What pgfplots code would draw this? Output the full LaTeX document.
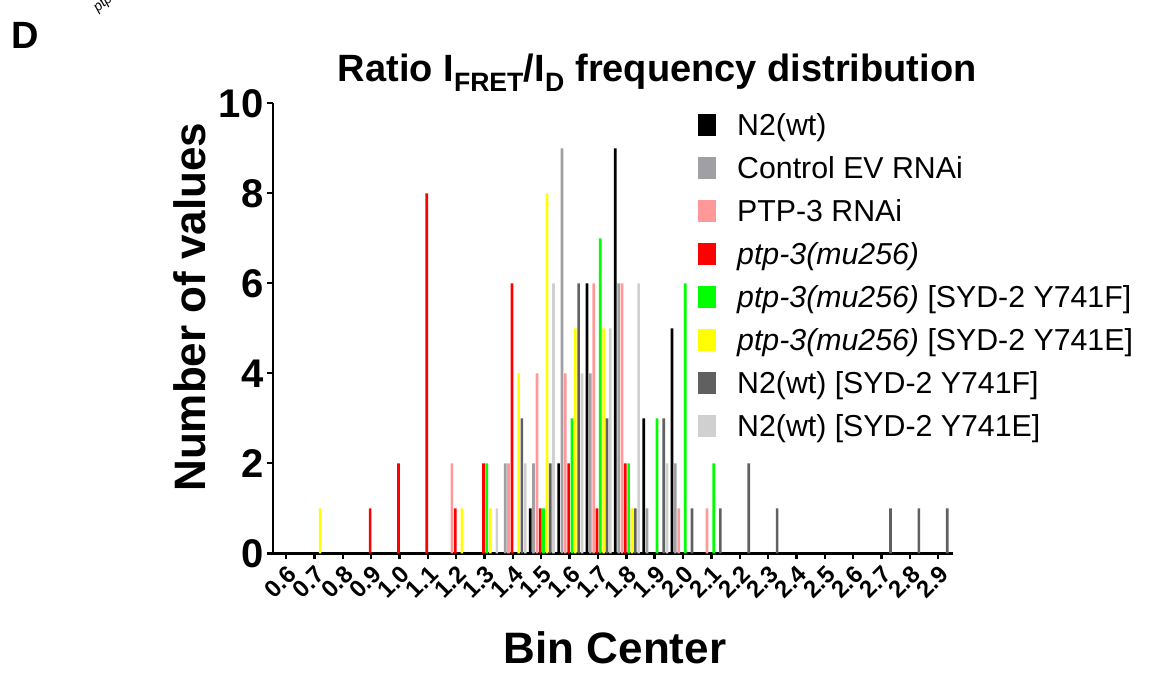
\documentclass[border=0pt]{standalone}
\usepackage{fontspec}
\setmainfont{Liberation Sans}
\usepackage{pgfplots}
\pgfplotsset{compat=1.18}
\definecolor{cN2}{HTML}{000000}
\definecolor{cEV}{HTML}{A0A0A4}
\definecolor{cRNAi}{HTML}{FF9999}
\definecolor{cMu}{HTML}{FF0000}
\definecolor{cYF}{HTML}{00FF00}
\definecolor{cYE}{HTML}{FFFF00}
\definecolor{cWtF}{HTML}{606060}
\definecolor{cWtE}{HTML}{D0D0D0}
\newcommand{\fs}[1]{\fontsize{#1}{#1}\selectfont}

\begin{document}
\begin{tikzpicture}
\useasboundingbox (0pt,0pt) rectangle (1152pt,675pt);
\node[font=\bfseries\fs{38}] at (25pt,640pt) {D};
\node[rotate=40, font=\itshape\fs{14}] at (108pt,675pt) {ptp-3};
\begin{axis}[
    at={(273pt,121.7pt)}, anchor=south west,
    scale only axis, width=680pt, height=450pt,
    xmin=0.554, xmax=2.952, ymin=0, ymax=10,
    axis lines=left,
    axis line style={-, line width=2.4pt},
    xtick={0.6,0.7,0.8,0.9,1.0,1.1,1.2,1.3,1.4,1.5,1.6,1.7,1.8,1.9,2.0,2.1,2.2,2.3,2.4,2.5,2.6,2.7,2.8,2.9},
    ytick={0,2,4,6,8,10},
    tick align=outside, major tick length=6pt,
    tick style={line width=2.4pt, black},
    /pgf/number format/assume math mode=true,
    xticklabel style={rotate=45, anchor=north east, font=\bfseries\fs{24},
        /pgf/number format/.cd, fixed, fixed zerofill, precision=1},
    yticklabel style={font=\bfseries\fs{40}},
    xlabel={Bin Center},
    ylabel={Number of values},
    title={Ratio I\textsubscript{FRET}/I\textsubscript{D} frequency distribution},
    every axis x label/.style={at={(axis description cs:0.503,-0.21)}, anchor=center, font=\bfseries\fs{44}},
    every axis y label/.style={at={(axis description cs:-0.122,0.547)}, anchor=center, rotate=90, font=\bfseries\fs{44}},
    every axis title/.style={at={(axis description cs:0.565,1.068)}, anchor=center, font=\bfseries\fs{38}},
    legend image code/.code={\fill[#1] (0pt,-12pt) rectangle (18pt,10pt);},
    legend style={at={(axis description cs:0.625,0.978)}, anchor=north west,
        draw=none, fill=none, inner sep=0pt, font=\fs{30.3}, row sep=20pt,
        nodes={inner sep=0pt, text height=22pt, text depth=0pt},
        /tikz/every odd column/.append style={column sep=21pt}},
    legend cell align=left,
]
\addplot[ybar, bar width=0.0095, bar shift=-0.0388, fill=cN2, draw=none]
    coordinates {(1.5,1) (1.6,2) (1.7,6) (1.8,9) (1.9,3) (2.0,5)};
\addlegendentry{N2(wt)}
\addplot[ybar, bar width=0.0095, bar shift=-0.0272, fill=cEV, draw=none]
    coordinates {(1.4,2) (1.5,2) (1.6,9) (1.7,4) (1.8,6) (1.9,1) (2.0,2)};
\addlegendentry{Control EV RNAi}
\addplot[ybar, bar width=0.0095, bar shift=-0.0152, fill=cRNAi, draw=none]
    coordinates {(1.2,2) (1.4,2) (1.5,4) (1.6,4) (1.7,6) (1.8,6) (2.0,1) (2.1,1)};
\addlegendentry{PTP-3 RNAi}
\addplot[ybar, bar width=0.0095, bar shift=-0.0035, fill=cMu, draw=none]
    coordinates {(0.9,1) (1.0,2) (1.1,8) (1.2,1) (1.3,2) (1.4,6) (1.5,1) (1.6,2) (1.7,1) (1.8,2)};
\addlegendentry{\textit{ptp-3(mu256)}}
\addplot[ybar, bar width=0.0095, bar shift=0.0081, fill=cYF, draw=none]
    coordinates {(1.3,2) (1.5,1) (1.6,3) (1.7,7) (1.8,2) (1.9,3) (2.0,6) (2.1,2)};
\addlegendentry{\textit{ptp-3(mu256)} [SYD-2 Y741F]}
\addplot[ybar, bar width=0.0095, bar shift=0.0201, fill=cYE, draw=none]
    coordinates {(0.7,1) (1.2,1) (1.3,1) (1.4,4) (1.5,8) (1.6,5) (1.7,5) (1.8,1)};
\addlegendentry{\textit{ptp-3(mu256)} [SYD-2 Y741E]}
\addplot[ybar, bar width=0.0095, bar shift=0.0317, fill=cWtF, draw=none]
    coordinates {(1.4,3) (1.5,2) (1.6,6) (1.7,3) (1.8,1) (1.9,3) (2.0,1) (2.1,1) (2.2,2) (2.3,1) (2.7,1) (2.8,1) (2.9,1)};
\addlegendentry{N2(wt) [SYD-2 Y741F]}
\addplot[ybar, bar width=0.0095, bar shift=0.0434, fill=cWtE, draw=none]
    coordinates {(1.3,1) (1.4,2) (1.5,6) (1.6,4) (1.7,5) (1.8,6) (1.9,2)};
\addlegendentry{N2(wt) [SYD-2 Y741E]}
\end{axis}
\end{tikzpicture}
\end{document}
